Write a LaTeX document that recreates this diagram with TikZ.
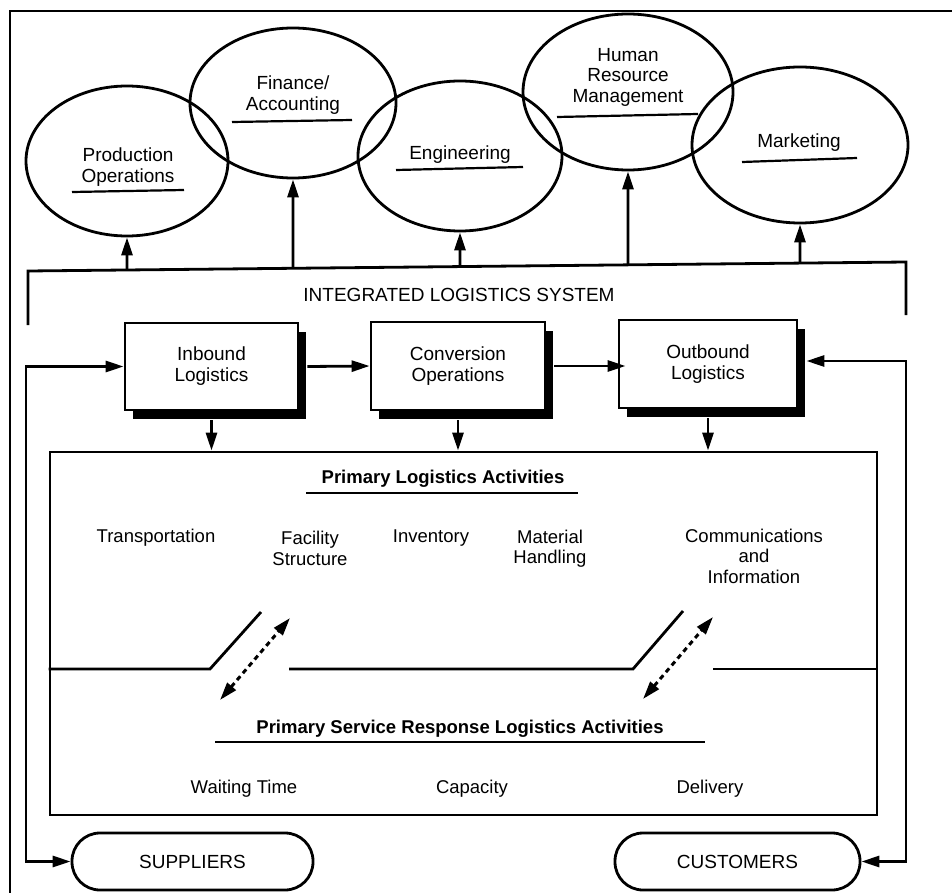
\documentclass[tikz,border=0pt]{standalone}
\usepackage{fontspec}
\setmainfont{Liberation Sans}
\usetikzlibrary{shapes.geometric,arrows.meta,calc,shadows}

\begin{document}
\begin{tikzpicture}[x=1pt,y=-1pt,line width=2.8pt,
  tip/.tip={Triangle[length=18pt,width=11pt]},
  arr/.style={-tip},
  dblarr/.style={tip-tip},
  area/.style={draw,ellipse,inner sep=0pt},
  ulin/.style={line width=2.2pt},
  lbl/.style={align=center,inner sep=0pt,font=\fontsize{19}{20.5}\selectfont},
  item/.style={align=center,inner sep=0pt,font=\fontsize{18.5}{20.5}\selectfont},
  head/.style={inner sep=0pt,font=\bfseries\fontsize{18.5}{21}\selectfont},
  stagebox/.style={draw,fill=white,inner sep=0pt,align=center,
    font=\fontsize{19}{21}\selectfont,
    drop shadow={shadow xshift=8pt,shadow yshift=-9pt,fill=black,opacity=1}},
  party/.style={draw,rounded corners=28pt,inner sep=0pt,minimum height=57pt,
    font=\fontsize{19}{21}\selectfont}]

\useasboundingbox (0,0) rectangle (952,893);

% page frame
\draw[line width=2pt] (10,893) -- (10,11) -- (952,11);

% functional areas
\node[area,minimum width=202pt,minimum height=150pt] (prod) at (127,161) {};
\node[area,minimum width=206pt,minimum height=150pt] (fin)  at (293,103) {};
\node[area,minimum width=204pt,minimum height=150pt] (eng)  at (460,156) {};
\node[area,minimum width=210pt,minimum height=156pt] (hrm)  at (628,92) {};
\node[area,minimum width=216pt,minimum height=156pt] (mkt)  at (800,145) {};

\node[lbl] (prodT) at (128,167) {Production\\Operations};
\node[lbl] (finT)  at (293,95)  {Finance/\\Accounting};
\node[lbl] (engT)  at (460,155) {Engineering};
\node[lbl] (hrmT)  at (628,77)  {Human\\Resource\\Management};
\node[lbl] (mktT)  at (799,143) {Marketing};

\draw[ulin] (72,192) -- (184,190);
\draw[ulin] (232,122) -- (352,120);
\draw[ulin] (396,170) -- (523,167);
\draw[ulin] (557,117) -- (698,114);
\draw[ulin] (742,162) -- (857,158);

% integrated logistics system bracket
\coordinate (busL)  at (28,325);
\coordinate (busTL) at (28,271);
\coordinate (busTR) at (906,262);
\coordinate (busR)  at (906,315);
\draw (busL) -- (busTL) -- (busTR) -- (busR);
\coordinate (b1) at ($(busTL)!99/878!(busTR)$);
\coordinate (b2) at ($(busTL)!265/878!(busTR)$);
\coordinate (b3) at ($(busTL)!432/878!(busTR)$);
\coordinate (b4) at ($(busTL)!600/878!(busTR)$);
\coordinate (b5) at ($(busTL)!772/878!(busTR)$);
\draw[arr] (b1) -- (prod.south);
\draw[arr] (b2) -- (fin.south);
\draw[arr] (b3) -- (eng.south);
\draw[arr] (b4) -- (hrm.south);
\draw[arr] (b5) -- (mkt.south);

\node[inner sep=0pt,font=\fontsize{19}{21}\selectfont] (ils) at (459,295) {INTEGRATED LOGISTICS SYSTEM};

% logistics stages
\node[stagebox,minimum width=173pt,minimum height=87pt] (inb)  at (211.5,366.5) {Inbound\\Logistics};
\node[stagebox,minimum width=174pt,minimum height=88pt] (conv) at (458,366) {Conversion\\Operations};
\node[stagebox,minimum width=178pt,minimum height=88pt] (outb) at (708,364) {Outbound\\Logistics};

\draw[arr] ([xshift=8pt]inb.east) -- (conv.west);
\draw[arr] ([xshift=8pt]conv.east) -- ([xshift=8pt]conv.east -| outb.west);

% activities panel
\node[draw,inner sep=0pt,minimum width=827pt,minimum height=363pt] (main) at (463.5,633.5) {};

\draw[arr] ([yshift=-9pt]inb.south)  -- (inb.south |- main.north);
\draw[arr] ([yshift=-9pt]conv.south) -- (conv.south |- main.north);
\draw[arr] ([yshift=-9pt]outb.south) -- (outb.south |- main.north);

\node[head] (pla) at (443,479) {Primary Logistics Activities};
\draw[ulin] (306,493) -- (578,493);

\node[item] (tr)  at (156,538)   {Transportation};
\node[item] (fs)  at (310,548.5) {Facility\\Structure};
\node[item] (inv) at (431,538)   {Inventory};
\node[item] (mh)  at (550,548.5) {Material\\Handling};
\node[item] (ci)  at (754,556)   {Communications\\and\\Information};

% switch-like divider between the two activity groups
\draw (main.west |- 0,669) -- (210,669) -- (261,612);
\draw (289,669) -- (633,669) -- (683,611);
\draw (713,669) -- (main.east |- 0,669);

\coordinate (s1a) at (220,700);
\coordinate (s1b) at (290,618);
\coordinate (s2a) at (643,699);
\coordinate (s2b) at (713,617);
\draw[dblarr,line width=3pt,dash pattern=on 5pt off 4pt] (s1a) -- (s1b);
\draw[dblarr,line width=3pt,dash pattern=on 5pt off 4pt] (s2a) -- (s2b);

\node[head] (psr) at (460,729) {Primary Service Response Logistics Activities};
\draw[ulin] (215,742) -- (705,742);

\node[item] (wt)  at (244,789) {Waiting Time};
\node[item] (cap) at (472,789) {Capacity};
\node[item] (del) at (710,789) {Delivery};

% external parties
\node[party,minimum width=241pt] (sup)  at (192.5,861.5) {SUPPLIERS};
\node[party,minimum width=245pt] (cust) at (737.5,861.5) {CUSTOMERS};

\coordinate (cL) at (26,861.5);
\coordinate (cR) at (906,861.5);
\draw[dblarr] (inb.west) -| (cL) -- (sup.west);
\draw[dblarr] ([xshift=8pt,yshift=3pt]outb.east) -| (cR) -- (cust.east);

\end{tikzpicture}
\end{document}
